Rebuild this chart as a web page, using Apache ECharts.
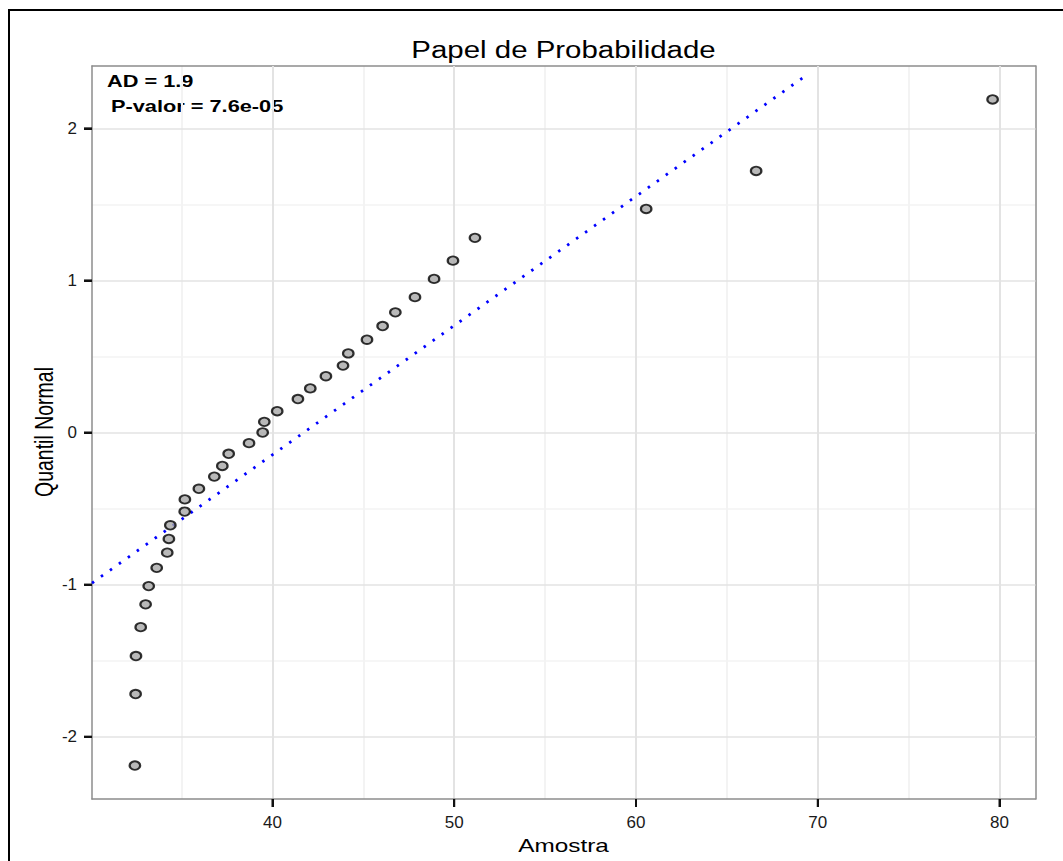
<!DOCTYPE html>
<html>
<head>
<meta charset="utf-8">
<title>Papel de Probabilidade</title>
<script src="https://cdn.jsdelivr.net/npm/echarts@6/dist/echarts.min.js"></script>
<style>
  html, body { margin: 0; padding: 0; background: #ffffff; }
  #chart { width: 1063px; height: 861px; }
</style>
</head>
<body>
<div id="chart"></div>
<script>
// Ordered sample (x) and the matching normal quantiles (y)
const amostra = [
  32.43, 32.47, 32.49, 32.75, 33.02, 33.19, 33.63, 34.21, 34.30, 34.38,
  35.17, 35.18, 35.95, 36.80, 37.24, 37.59, 38.71, 39.46, 39.55, 40.26,
  41.40, 42.08, 42.94, 43.88, 44.17, 45.20, 46.06, 46.76, 47.84, 48.89,
  49.93, 51.14, 60.56, 66.61, 79.62
];
const quantilNormal = [
  -2.19, -1.72, -1.47, -1.28, -1.13, -1.01, -0.89, -0.79, -0.70, -0.61,
  -0.52, -0.44, -0.37, -0.29, -0.22, -0.14, -0.07, 0.00, 0.07, 0.14,
  0.22, 0.29, 0.37, 0.44, 0.52, 0.61, 0.70, 0.79, 0.89, 1.01,
  1.13, 1.28, 1.47, 1.72, 2.19
];

// Reference normal line (two end points)
const linhaX = [30.07, 69.5];
const linhaY = [-0.99, 2.36];

// Axis ticks and gridlines
const xTicks = [40, 50, 60, 70, 80];
const xMinor = [35, 45, 55, 65, 75];
const yTicks = [-2, -1, 0, 1, 2];
const yMinor = [-1.5, -0.5, 0.5, 1.5];

// Texts
const titulo = 'Papel de Probabilidade';
const rotuloX = 'Amostra';
const rotuloY = 'Quantil Normal';
const textoAD = 'AD = 1.9';
const textoP = 'P-valor = 7.6e-05';

const FONT = "'Liberation Sans', Arial, Helvetica, sans-serif";
const STRETCH = 1.28;
const PANEL = '#8c8c8c';
const TICK = '#111111';
const TICK_LEN = 8;

const pontos = amostra.map((v, i) => [v, quantilNormal[i]]);
const linha = linhaX.map((v, i) => [v, linhaY[i]]);

const chart = echarts.init(document.getElementById('chart'), null, { renderer: 'svg' });

const xRange = { min: 30.07, max: 81.98 };
const yRange = { min: -2.41, max: 2.41 };
const panelLine = { show: true, onZero: false, lineStyle: { color: PANEL, width: 1.5 } };
const hidden = { show: false };
const tickStyle = { show: true, inside: false, length: TICK_LEN, lineStyle: { color: TICK, width: 2 } };

const textos = [
  {
    type: 'rect', silent: true, z: 0,
    shape: { x: 9, y: 10, width: 1200, height: 1000 },
    style: { fill: 'none', stroke: '#000000', lineWidth: 2 }
  },
  {
    type: 'text', x: 563.5, y: 50, scaleX: STRETCH,
    style: { text: titulo, font: '23px ' + FONT, fill: '#000', textAlign: 'center', textVerticalAlign: 'middle' }
  },
  {
    type: 'text', x: 107, y: 81, scaleX: STRETCH,
    style: { text: textoAD, font: 'bold 17px ' + FONT, fill: '#000', textAlign: 'left', textVerticalAlign: 'middle' }
  },
  {
    type: 'text', x: 111, y: 106, scaleX: STRETCH,
    style: { text: textoP, font: 'bold 17px ' + FONT, fill: '#000', textAlign: 'left', textVerticalAlign: 'middle' }
  },
  {
    type: 'text', x: 563.5, y: 845, scaleX: STRETCH,
    style: { text: rotuloX, font: '19px ' + FONT, fill: '#000', textAlign: 'center', textVerticalAlign: 'middle' }
  },
  {
    type: 'text', x: 45, y: 432, rotation: Math.PI / 2, scaleY: STRETCH,
    style: { text: rotuloY, font: '19.5px ' + FONT, fill: '#000', textAlign: 'center', textVerticalAlign: 'middle' }
  }
];

chart.setOption({
  backgroundColor: '#ffffff',
  animation: false,
  grid: { left: 92, top: 66, right: 27.5, bottom: 62, show: false },
  xAxis: [
    {
      type: 'value', ...xRange, position: 'bottom',
      axisLine: panelLine,
      axisTick: { ...tickStyle, customValues: xTicks },
      axisLabel: { show: true, customValues: xTicks, fontSize: 17, color: '#1a1a1a', margin: 15, fontFamily: FONT },
      splitLine: { show: true, lineStyle: { color: '#e3e3e3', width: 2 } },
      z: 2
    },
    {
      type: 'value', ...xRange, position: 'top',
      axisLine: panelLine,
      axisTick: { show: false, customValues: xMinor },
      axisLabel: hidden,
      splitLine: { show: true, lineStyle: { color: '#f3f3f3', width: 2 } },
      z: 1
    }
  ],
  yAxis: [
    {
      type: 'value', ...yRange, position: 'left',
      axisLine: panelLine,
      axisTick: { ...tickStyle, customValues: yTicks },
      axisLabel: { show: true, customValues: yTicks, fontSize: 17, color: '#1a1a1a', margin: 15, fontFamily: FONT },
      splitLine: { show: true, lineStyle: { color: '#e3e3e3', width: 1.5 } },
      z: 2
    },
    {
      type: 'value', ...yRange, position: 'right',
      axisLine: panelLine,
      axisTick: { show: false, customValues: yMinor },
      axisLabel: hidden,
      splitLine: { show: true, lineStyle: { color: '#f3f3f3', width: 1.5 } },
      z: 1
    }
  ],
  series: [
    {
      type: 'line',
      xAxisIndex: 0, yAxisIndex: 0,
      data: linha,
      showSymbol: false,
      silent: true,
      lineStyle: { color: '#0000ff', width: 2.8, type: [2.5, 8.5], cap: 'butt' },
      z: 3
    },
    {
      type: 'scatter',
      xAxisIndex: 0, yAxisIndex: 0,
      data: pontos,
      symbol: 'circle',
      symbolSize: [10.5, 8.5],
      itemStyle: { color: '#a8a8a8', borderColor: '#000000', borderWidth: 2 },
      z: 4
    }
  ],
  graphic: textos
});

// Outward tick marks on the bottom and left panel edges, placed with the axes' own scales
const finder = { xAxisIndex: 0, yAxisIndex: 0 };
const marcas = [];
xTicks.forEach(v => {
  const p = chart.convertToPixel(finder, [v, yRange.min]);
  marcas.push({ type: 'line', silent: true, z: 50,
    shape: { x1: p[0], y1: p[1], x2: p[0], y2: p[1] + TICK_LEN },
    style: { stroke: TICK, lineWidth: 2 } });
});
yTicks.forEach(v => {
  const p = chart.convertToPixel(finder, [xRange.min, v]);
  marcas.push({ type: 'line', silent: true, z: 50,
    shape: { x1: p[0] - TICK_LEN, y1: p[1], x2: p[0], y2: p[1] },
    style: { stroke: TICK, lineWidth: 2 } });
});
chart.setOption({ graphic: textos.concat(marcas) });
</script>
</body>
</html>
